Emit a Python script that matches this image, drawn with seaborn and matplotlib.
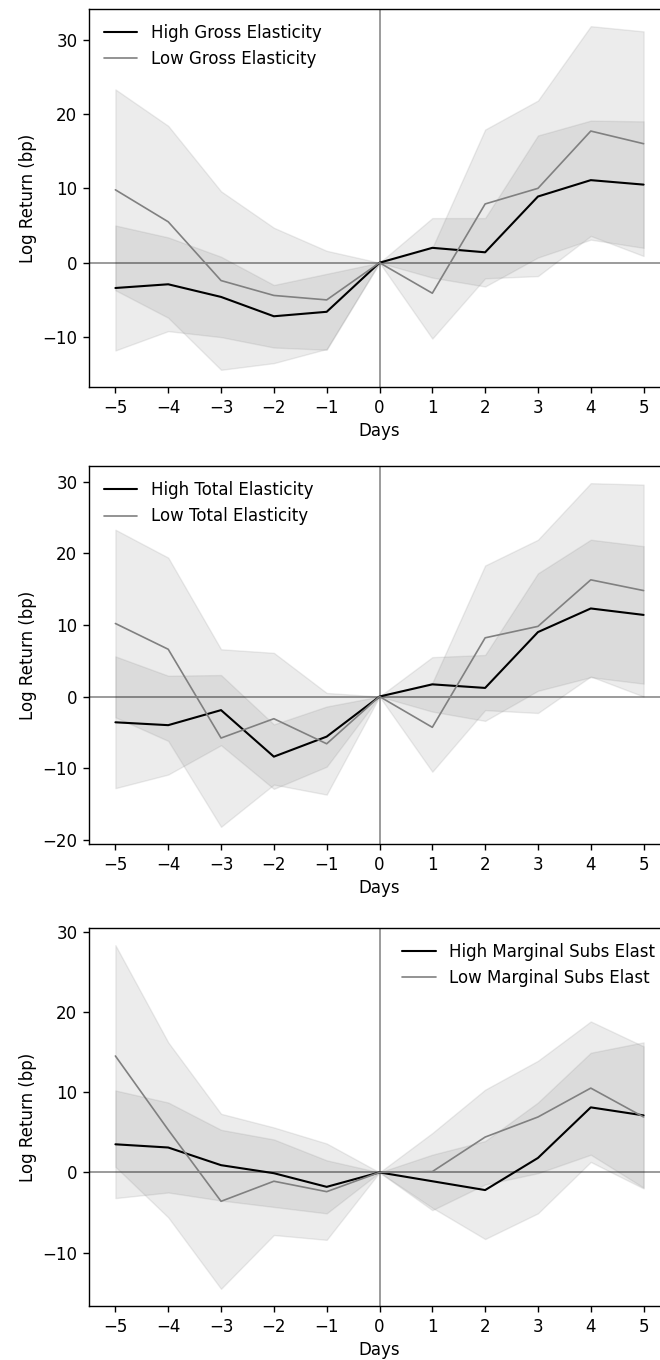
import numpy as np
import pandas as pd
import matplotlib
matplotlib.use("Agg")
import matplotlib.pyplot as plt
import seaborn as sns

days = [-5, -4, -3, -2, -1, 0, 1, 2, 3, 4, 5]

# gross elasticity
gross_high = [-3.4, -2.9, -4.6, -7.2, -6.6, 0, 2.0, 1.4, 8.9, 11.1, 10.5]
gross_high_ci = [8.4, 6.3, 5.4, 4.2, 5.1, 0, 4.0, 4.6, 8.2, 8.0, 8.5]
gross_low = [9.8, 5.5, -2.4, -4.4, -5.0, 0, -4.1, 7.9, 10.0, 17.7, 16.0]
gross_low_ci = [13.5, 12.9, 12.0, 9.1, 6.6, 0, 6.1, 10.0, 11.8, 14.1, 15.1]

# total elasticity
total_high = [-3.6, -4.0, -1.9, -8.4, -5.6, 0, 1.7, 1.2, 9.0, 12.3, 11.4]
total_high_ci = [9.2, 6.9, 4.9, 4.5, 4.2, 0, 3.8, 4.6, 8.2, 9.6, 9.6]
total_low = [10.2, 6.6, -5.8, -3.1, -6.6, 0, -4.3, 8.2, 9.8, 16.3, 14.8]
total_low_ci = [13.1, 12.8, 12.4, 9.2, 7.1, 0, 6.2, 10.1, 12.1, 13.5, 14.8]

# marginal substitution elasticity
marg_high = [3.5, 3.1, 0.9, -0.1, -1.8, 0, -1.1, -2.2, 1.8, 8.1, 7.1]
marg_high_ci = [6.7, 5.6, 4.4, 4.2, 3.3, 0, 3.3, 6.1, 6.9, 6.8, 9.1]
marg_low = [14.5, 5.3, -3.6, -1.1, -2.4, 0, 0.1, 4.4, 6.9, 10.5, 6.9]
marg_low_ci = [13.8, 10.9, 10.9, 6.7, 6.0, 0, 4.8, 5.9, 7.0, 8.3, 8.8]

panels = [
    ("High Gross Elasticity", "Low Gross Elasticity",
     gross_high, gross_high_ci, gross_low, gross_low_ci, "upper left"),
    ("High Total Elasticity", "Low Total Elasticity",
     total_high, total_high_ci, total_low, total_low_ci, "upper left"),
    ("High Marginal Subs Elast", "Low Marginal Subs Elast",
     marg_high, marg_high_ci, marg_low, marg_low_ci, "upper right"),
]

sns.set_style("ticks")
plt.rcParams['font.family'] = ['DejaVu Sans']
plt.rcParams['font.size'] = 12
plt.rcParams['legend.fontsize'] = 12
plt.rcParams['axes.labelsize'] = 12
plt.rcParams['xtick.labelsize'] = 12
plt.rcParams['ytick.labelsize'] = 12
for k in ['xtick', 'ytick']:
    plt.rcParams[k + '.color'] = 'black'
    plt.rcParams[k + '.major.size'] = 4.2
    plt.rcParams[k + '.major.pad'] = 4.2
    plt.rcParams[k + '.major.width'] = 1.0
plt.rcParams['axes.edgecolor'] = 'black'
plt.rcParams['axes.linewidth'] = 1.0
plt.rcParams['axes.labelcolor'] = 'black'
plt.rcParams['text.color'] = 'black'

fig = plt.figure(figsize=(6.6, 13.6), dpi=100)

# axes boxes in pixels from top (top, bottom)
boxes = [(9, 387), (466, 844), (928, 1306)]

for (hi_name, lo_name, hi, hi_ci, lo, lo_ci, loc), (top, bot) in zip(panels, boxes):
    ax = fig.add_axes([89 / 660, 1 - bot / 1360, 581 / 660, (bot - top) / 1360])

    hi = np.array(hi)
    lo = np.array(lo)
    hi_ci = np.array(hi_ci)
    lo_ci = np.array(lo_ci)

    df = pd.DataFrame({
        'Days': days * 2,
        'ret': list(hi) + list(lo),
        'group': [hi_name] * len(days) + [lo_name] * len(days),
    })

    sns.lineplot(data=df[df['group'] == hi_name], x='Days', y='ret',
                 color='black', linewidth=1.5, label=hi_name, ax=ax, zorder=3)
    sns.lineplot(data=df[df['group'] == lo_name], x='Days', y='ret',
                 color='gray', linewidth=1.2, label=lo_name, ax=ax, zorder=3)

    ax.fill_between(days, hi - hi_ci, hi + hi_ci, color='gray', alpha=0.15)
    ax.fill_between(days, lo - lo_ci, lo + lo_ci, color='gray', alpha=0.15)

    ax.axhline(0, color='black', linewidth=1.1, alpha=0.5, zorder=2)
    ax.axvline(0, color='black', linewidth=1.1, alpha=0.5, zorder=2)

    ax.set_xlim(-5.5, 5.5)
    ax.set_xticks(days)
    ax.set_xlabel("Days")
    ax.set_ylabel("Log Return (bp)")
    ax.legend(loc=loc, frameon=False)

fig.savefig("out.png", dpi=100)
